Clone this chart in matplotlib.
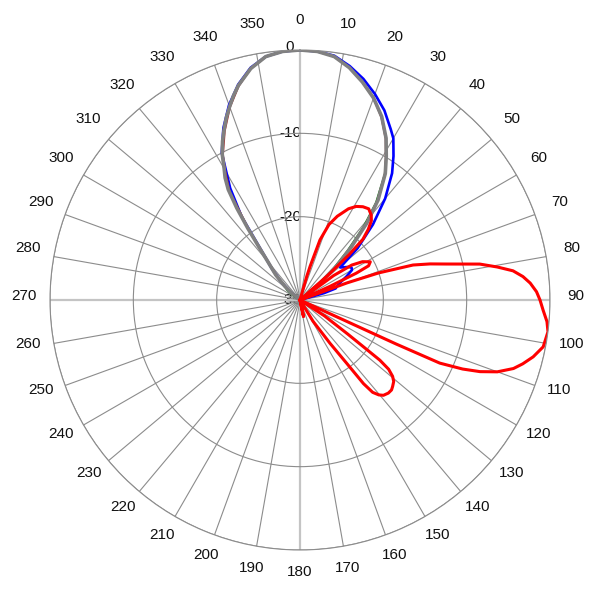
import numpy as np
import matplotlib.pyplot as plt
from matplotlib.transforms import ScaledTranslation

plt.rcParams['font.family'] = ['Liberation Sans', 'DejaVu Sans']

# radiation pattern traces: angle in degrees, level in dB (floor -30)
blue_ang = [-54, -50, -46, -42, -38, -35, -32, -28, -24, -20, -16, -12, -8, -4, 0, 4, 8, 12, 16, 20,
            24, 28, 30, 33, 36, 40, 44, 48, 51, 54, 56, 58, 60, 63, 66, 70, 72, 74, 76]
blue_db = [-30, -28.4, -26.8, -25, -22.5, -17.8, -14.2, -10, -7.4, -5.1, -3.1, -1.5, -0.5, -0.1, 0, -0.1, -0.4, -1.3, -2.4, -3.7,
           -5.1, -6.8, -7.6, -9.4, -11.2, -14.1, -17.4, -20.7, -23.8, -23.3, -22.9, -22.7, -22.8, -23.7, -24.6, -25.3, -25.5, -27, -30]

green_ang = [-60, -56, -52, -48, -44, -40, -36, -33, -30, -28, -24, -20, -16, -12, -8, -4, 0, 4, 8, 12,
             16, 20, 24, 28, 31, 34, 38, 41, 44, 47, 50, 53]
green_db = [-30, -29, -28, -27.6, -25.8, -24, -19.3, -14.2, -11.8, -10.1, -7.6, -5.3, -3.2, -1.6, -0.5, -0.1, 0, -0.1, -0.5, -1.5,
            -2.8, -4.2, -5.9, -8.0, -9.9, -11.8, -15.2, -18.4, -21.8, -24.6, -27.5, -30]

brown_ang = [-54, -50, -48, -44, -40, -36, -33, -30, -28, -24, -20, -16, -12, -8, -4, 0, 4, 8, 12, 16,
             20, 24, 28, 31, 34, 38, 41, 44, 47, 50, 53]
brown_db = [-30, -28.7, -27.8, -26, -24.2, -19.6, -14.5, -12.0, -10.3, -7.8, -5.4, -3.3, -1.6, -0.5, -0.1, 0, -0.1, -0.5, -1.5, -2.8,
            -4.2, -6.0, -8.1, -10.0, -11.8, -14.9, -17.9, -21.2, -24.0, -26.9, -30]

gray_ang = [-54, -50, -48, -44, -40, -38, -36, -34.5, -33, -31.5, -30, -28, -26, -24, -22, -20, -18, -16, -12, -8,
            -4, 0, 4, 8, 12, 16, 20, 24, 28, 31, 34, 38, 41, 44, 47, 50, 53]
gray_db = [-30, -28.6, -27.6, -25.8, -24, -22.2, -19.3, -16.6, -14.2, -12.8, -11.8, -10.1, -8.8, -7.6, -6.4, -5.3, -4.2, -3.2, -1.6, -0.5,
           -0.1, 0, -0.1, -0.5, -1.5, -2.8, -4.2, -5.9, -8.0, -9.9, -11.7, -14.8, -17.8, -21.1, -23.9, -26.8, -30]

red_ang = [0, 14, 16, 16.7, 18.4, 21, 24, 28, 31, 34, 37, 40, 42, 44, 46, 47.3, 48.5, 50,
           52, 54, 56, 58.5, 61.5, 63.5, 64.5, 65.5, 66.5,
           69, 70, 71, 72.8, 74.5, 76.2, 78.7, 80.5, 82.2, 84, 85.8, 88, 90, 92.4, 95, 97.3, 100.9,
           103.7, 106, 107.8, 110, 111.7, 113, 114.3, 114.6, 115.2,
           121, 123, 125.5, 126.4, 127, 128, 129.5, 131, 133, 134.5, 136.5, 138.8, 140.3, 141.8, 142.8, 143.6, 145.3, 148.5, 151,
           162, 168, 174, 360]
red_db = [-30, -30, -27, -25.8, -22.4, -20.3, -19.0, -17.6, -16.9, -16.5, -16.3, -16.7, -17.2, -18.2, -19.5, -22, -25.5, -30,
          -30, -25, -22.5, -21.2, -20.4, -20.8, -22.5, -26, -30,
          -30, -24, -20, -15.8, -13.8, -11.9, -8.0, -6.0, -4.2, -3.1, -2.3, -1.6, -1.2, -0.8, -0.25, 0, -0.28,
          -1.2, -2.2, -3.1, -4.8, -6.75, -8.8, -11.6, -17.3, -30,
          -30, -26.5, -23, -20.6, -18, -16.5, -15.6, -15.1, -14.8, -14.6, -14.6, -14.8, -15.2, -15.9, -17.4, -20.6, -23.7, -27, -30,
          -30, -28, -30, -30]

angle_ticks = list(range(0, 360, 10))
r_ticks = [-30, -20, -10, 0]

fig = plt.figure(figsize=(6, 6), dpi=100)
ax = fig.add_axes([50 / 600, 50 / 600, 500 / 600, 500 / 600], projection='polar')
ax.set_theta_zero_location('N')
ax.set_theta_direction(-1)
ax.set_ylim(-30, 0)

# traces
ax.plot(np.deg2rad(blue_ang), blue_db, color='#0000ff', lw=1.9)
ax.plot(np.deg2rad(green_ang), green_db, color='#008000', lw=1.4)
ax.plot(np.deg2rad(brown_ang), brown_db, color='#a52a2a', lw=1.4)
ax.plot(np.deg2rad(gray_ang), gray_db, color='#808080', lw=2.6)
ax.plot(np.deg2rad(red_ang), red_db, color='#ff0000', lw=2.2)

# grid
ax.set_thetagrids(angle_ticks, [''] * len(angle_ticks))
for a, gl in zip(angle_ticks, ax.xaxis.get_gridlines()):
    if a % 90 == 0:
        gl.set_color('#c4c4c4')
        gl.set_linewidth(1.6)
    else:
        gl.set_color('#8c8c8c')
        gl.set_linewidth(0.8)
    gl.set_linestyle('-')
ax.set_yticks(r_ticks)
ax.set_yticklabels([])
ax.yaxis.grid(True, color='#8c8c8c', lw=0.8, ls='-')
ax.spines['polar'].set_color('#8c8c8c')
ax.spines['polar'].set_linewidth(0.8)

# angle labels around the rim, nudged up a little
up = ScaledTranslation(0, 0.04, fig.dpi_scale_trans)
for a in angle_ticks:
    ax.text(np.deg2rad(a), 3.12, str(a), transform=ax.transData + up, ha='center', va='center',
            fontsize=11, color='#111111')

# radial labels just left of the 0 deg line
for v in r_ticks:
    dy = 0.03 if v == 0 else 0
    off = ScaledTranslation(-0.10, dy, fig.dpi_scale_trans)
    ax.text(0, v, str(v), transform=ax.transData + off, ha='center', va='center',
            fontsize=11, color='#111111', zorder=1)

fig.savefig('out.png', dpi=100)
